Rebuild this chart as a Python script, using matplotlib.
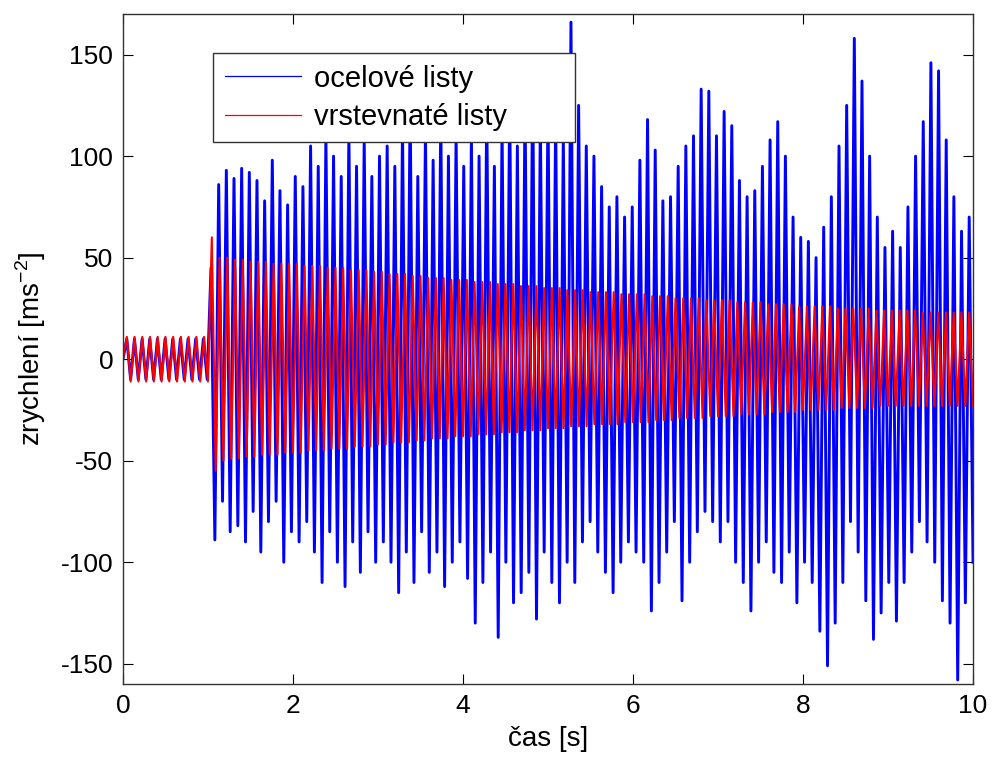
import numpy as np
import matplotlib
matplotlib.use("Agg")
import matplotlib.pyplot as plt

plt.rcParams['font.family'] = ['Liberation Sans', 'DejaVu Sans']
plt.rcParams['mathtext.fontset'] = 'custom'
plt.rcParams['mathtext.rm'] = 'Liberation Sans'
plt.rcParams['axes.unicode_minus'] = False

# --- data: successive peaks (upper) and troughs (lower) of each oscillation cycle ---
t_start, t_end = 0.0, 10.0

# free vibration during the first second (both variants)
steel_pre_hi = [10, 10, 10, 10, 10, 10, 10, 10, 10, 10, 10]
steel_pre_lo = [-10, -10, -10, -10, -10, -10, -10, -10, -10, -10, -10]
lam_pre_hi = [11, 11, 11, 11, 11, 11, 11, 11, 11, 11, 11]
lam_pre_lo = [-11, -11, -11, -11, -11, -11, -11, -11, -11, -11, -11]

# steel leaf springs ("ocelové listy"), t = 1 .. 10 s
steel_hi = [45,
            86, 93, 89, 94, 92, 88, 78, 98, 83, 76, 90,
            85, 105, 95, 110, 100, 90, 112, 95, 108, 90, 100,
            105, 95, 115, 127, 90, 112, 98, 120, 100, 110, 95,
            110, 100, 125, 95, 115, 130, 105, 128, 140, 118, 125,
            120, 110, 166, 125, 105, 100, 85, 75, 80, 70, 75,
            98, 118, 103, 78, 80, 95, 105, 110, 133, 132, 110,
            122, 115, 88, 80, 83, 95, 108, 117, 100, 70, 60,
            58, 50, 65, 80, 105, 125, 158, 137, 100, 70, 55,
            63, 55, 75, 100, 117, 146, 142, 108, 80, 63, 70]
steel_lo = [-89,
            -70, -85, -82, -90, -75, -95, -80, -70, -100, -85, -90,
            -80, -95, -110, -85, -100, -112, -90, -105, -85, -100, -90,
            -100, -115, -95, -110, -85, -105, -95, -112, -100, -90, -108,
            -130, -110, -95, -137, -100, -120, -115, -105, -128, -95, -110,
            -120, -100, -110, -90, -80, -95, -105, -115, -100, -90, -95,
            -100, -124, -110, -95, -80, -119, -100, -85, -75, -80, -90,
            -80, -100, -110, -124, -100, -90, -105, -110, -95, -120, -100,
            -110, -134, -151, -130, -110, -80, -95, -119, -138, -125, -110,
            -129, -110, -95, -80, -90, -100, -119, -130, -158, -120, -100]

# laminated leaf springs ("vrstevnaté listy"), t = 1 .. 10 s
lam_hi = [60,
          50, 50, 49, 49, 48, 48, 48, 47, 47, 47, 47,
          46, 46, 46, 45, 45, 45, 44, 44, 44, 43, 43,
          42, 42, 42, 41, 41, 40, 40, 40, 39, 39, 39,
          38, 38, 38, 37, 37, 37, 36, 36, 36, 35, 35,
          35, 34, 34, 34, 33, 33, 33, 33, 32, 32, 32,
          32, 31, 31, 31, 30, 30, 30, 30, 29, 29, 29,
          29, 28, 28, 28, 28, 27, 27, 27, 27, 26, 26,
          26, 26, 26, 25, 25, 25, 25, 25, 24, 24, 24,
          24, 24, 24, 23, 23, 23, 23, 23, 23, 23]
lam_lo = [-55,
          -50, -49, -49, -48, -48, -47, -47, -47, -46, -46, -46,
          -45, -45, -45, -44, -44, -44, -43, -43, -43, -42, -42,
          -41, -41, -41, -40, -40, -39, -39, -39, -38, -38, -38,
          -37, -37, -37, -36, -36, -36, -35, -35, -35, -34, -34,
          -34, -33, -33, -33, -32, -32, -32, -32, -31, -31, -31,
          -31, -30, -30, -30, -29, -29, -29, -29, -28, -28, -28,
          -28, -27, -27, -27, -27, -26, -26, -26, -26, -25, -25,
          -25, -25, -25, -24, -24, -24, -24, -24, -23, -23, -23,
          -23, -23, -23, -23, -23, -23, -23, -23, -23, -23]

x_ticks = [0, 2, 4, 6, 8, 10]
y_ticks = [-150, -100, -50, 0, 50, 100, 150]
labels = ['ocelové listy', 'vrstevnaté listy']


def interleave(hi, lo):
    out = [0.0]
    for a, b in zip(hi, lo):
        out.extend([a, b])
    return np.array(out, dtype=float)


steel = interleave(steel_pre_hi + steel_hi, steel_pre_lo + steel_lo)
lam = interleave(lam_pre_hi + lam_hi, lam_pre_lo + lam_lo)
t_steel = np.linspace(t_start, t_end, len(steel))
t_lam = np.linspace(t_start, t_end, len(lam))

fig = plt.figure(figsize=(9.94, 7.58), dpi=100)
ax = fig.add_axes([0.1237, 0.0976, 0.8552, 0.8839])

ax.plot(t_steel, steel, color='#0000ff', lw=2.1, label=labels[0])
ax.plot(t_lam, lam, color='#ff0000', lw=1.5, label=labels[1])

ax.set_xlim(0, 10)
ax.set_ylim(-160, 170)
ax.set_xticks(x_ticks)
ax.set_yticks(y_ticks)
ax.tick_params(direction='in', length=7, width=0.8, labelsize=19,
               top=True, right=True, pad=7)
for s in ax.spines.values():
    s.set_color('#333333')
    s.set_linewidth(1.0)

ax.set_xlabel('čas [s]', fontsize=20, labelpad=6)
ax.set_ylabel('zrychlení [ms$^{-2}$]', fontsize=20, labelpad=9)

leg = ax.legend(loc='upper left', bbox_to_anchor=(0.106, 0.80, 0.426, 0.142),
                mode='expand', fontsize=21,
                frameon=True, fancybox=False, framealpha=1.0,
                edgecolor='#333333', handlelength=2.6, handletextpad=0.45,
                labelspacing=0.35, borderpad=0.4, borderaxespad=0)
leg.get_frame().set_linewidth(1.0)
for h in leg.get_lines():
    h.set_linewidth(0.9)

fig.savefig('out.png', dpi=100)
